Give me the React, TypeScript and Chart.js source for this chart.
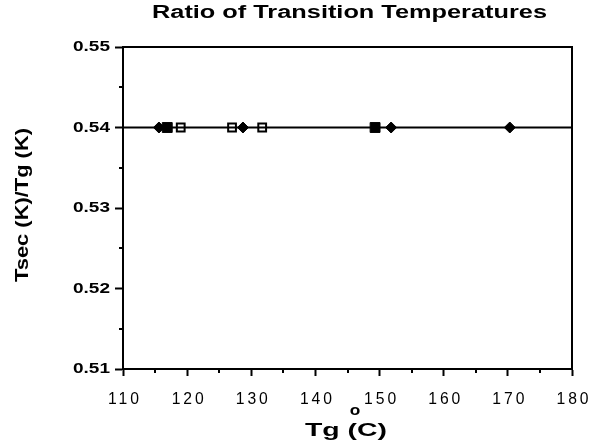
import React, { useEffect, useRef } from "react";
import { Chart, registerables } from "chart.js";

Chart.register(...registerables);

const titleText = "Ratio of Transition Temperatures";
const xTitleMain = "Tg (C)";
const xTitleSup = "o";
const yTitle = "Tsec (K)/Tg (K)";

const fitLineX = [110, 180];
const fitLineY = [0.54, 0.54];

const filledDiamondX = [115.6, 128.7, 151.8, 170.3];
const filledDiamondY = [0.54, 0.54, 0.54, 0.54];

const openSquareX = [119.0, 127.0, 131.7];
const openSquareY = [0.54, 0.54, 0.54];

const filledSquareX = [116.9, 149.3];
const filledSquareY = [0.54, 0.54];

const xTickLabels = ["110", "120", "130", "140", "150", "160", "170", "180"];
const yTickLabels = ["0.51", "0.52", "0.53", "0.54", "0.55"];

const xMin = 110, xMax = 180, xStep = 5;
const yMin = 0.51, yMax = 0.55, yStep = 0.005;

const pts = (xs: number[], ys: number[]) => xs.map((x, i) => ({ x, y: ys[i] }));

const FONT = "'Liberation Sans', Arial, Helvetica, sans-serif";

function drawStretched(ctx: any, text: string, x: number, y: number, sx: number, align: string) {
  ctx.save();
  ctx.translate(x, y);
  ctx.scale(sx, 1);
  ctx.textAlign = align;
  ctx.fillText(text, 0, 0);
  ctx.restore();
}

function fitFactor(ctx: any, text: string, targetW: number) {
  return targetW / ctx.measureText(text).width;
}

const isMajorX = (v: number) => Math.abs(v % 10) < 1e-6;
const isMajorY = (v: number) => Math.round(v * 1000) % 10 === 0;

export default function App() {
  const ref = useRef<HTMLCanvasElement | null>(null);
  useEffect(() => {
    if (!ref.current) return;
    const boxPlugin = {
      id: "boxAndTitles",
      afterDraw(chart: any) {
        const ctx = chart.ctx;
        const a = chart.chartArea;
        const xs = chart.scales.x;
        const ys = chart.scales.y;
        ctx.save();
        ctx.strokeStyle = "#000";
        ctx.lineWidth = 2;
        ctx.strokeRect(a.left, a.top, a.right - a.left, a.bottom - a.top);
        // minor ticks
        ctx.beginPath();
        for (let v = xMin; v <= xMax + 1e-9; v += xStep) {
          if (isMajorX(v)) continue;
          const px = Math.round(xs.getPixelForValue(v));
          ctx.moveTo(px, a.bottom);
          ctx.lineTo(px, a.bottom + 4);
        }
        for (let i = 0; i <= Math.round((yMax - yMin) / yStep); i++) {
          const v = yMin + i * yStep;
          if (isMajorY(v)) continue;
          const py = Math.round(ys.getPixelForValue(v));
          ctx.moveTo(a.left, py);
          ctx.lineTo(a.left - 4, py);
        }
        ctx.stroke();

        ctx.fillStyle = "#000";

        // tick labels
        ctx.font = `bold 14px ${FONT}`;
        ctx.textBaseline = "middle";
        const syY = fitFactor(ctx, "0.53", 37);
        yTickLabels.forEach((t) => {
          const py = ys.getPixelForValue(parseFloat(t));
          drawStretched(ctx, t, 110, py + 0.5, syY, "right");
        });
        ctx.font = `16px ${FONT}`;
        ctx.letterSpacing = "3px";
        const sxX = fitFactor(ctx, "140", 35);
        xTickLabels.forEach((t) => {
          const px = xs.getPixelForValue(parseFloat(t));
          drawStretched(ctx, t, px + 2, 399.5, sxX, "center");
        });
        ctx.letterSpacing = "0px";

        // titles
        ctx.textBaseline = "alphabetic";
        ctx.font = `bold 18px ${FONT}`;
        drawStretched(ctx, titleText, 152, 17.5, fitFactor(ctx, titleText, 395), "left");

        ctx.font = `bold 19px ${FONT}`;
        drawStretched(ctx, xTitleMain, 305, 436, fitFactor(ctx, xTitleMain, 82), "left");
        ctx.font = `bold 15px ${FONT}`;
        ctx.textBaseline = "middle";
        drawStretched(ctx, xTitleSup, 355, 411, 1.15, "center");

        ctx.save();
        ctx.translate(23, 282);
        ctx.rotate(-Math.PI / 2);
        ctx.font = `bold 18px ${FONT}`;
        ctx.textBaseline = "middle";
        drawStretched(ctx, yTitle, 0, 0, fitFactor(ctx, yTitle, 154), "left");
        ctx.restore();
        ctx.restore();
      },
    };
    const chart = new Chart(ref.current, {
      type: "scatter",
      data: {
        datasets: [
          {
            type: "line",
            data: pts(fitLineX, fitLineY),
            borderColor: "#000",
            borderWidth: 2,
            pointRadius: 0,
          } as any,
          {
            data: pts(filledSquareX, filledSquareY),
            pointStyle: "rect",
            pointRadius: 7,
            backgroundColor: "#000",
            borderColor: "#000",
            borderWidth: 1,
          },
          {
            data: pts(filledDiamondX, filledDiamondY),
            pointStyle: "rectRot",
            pointRadius: 5.5,
            backgroundColor: "#000",
            borderColor: "#000",
            borderWidth: 1,
          },
          {
            data: pts(openSquareX, openSquareY),
            pointStyle: "rect",
            pointRadius: 5.5,
            backgroundColor: "#fff",
            borderColor: "#000",
            borderWidth: 2,
          },
        ],
      },
      options: {
        animation: false,
        responsive: false,
        layout: { padding: { top: 47, right: 20, left: 0, bottom: 0 } },
        plugins: { legend: { display: false }, title: { display: false }, tooltip: { enabled: false } },
        scales: {
          x: {
            type: "linear",
            min: xMin,
            max: xMax,
            ticks: { stepSize: xStep, autoSkip: false, display: false },
            grid: {
              drawOnChartArea: false,
              color: "#000",
              tickColor: (c: any) => (c.tick && isMajorX(c.tick.value) ? "#000" : "rgba(0,0,0,0)"),
              tickLength: 7,
              tickWidth: 2,
            },
            border: { color: "#000", width: 2 },
            afterFit: (s: any) => { s.height = 76; },
          },
          y: {
            type: "linear",
            min: yMin,
            max: yMax,
            ticks: { stepSize: yStep, autoSkip: false, display: false },
            grid: {
              drawOnChartArea: false,
              color: "#000",
              tickColor: (c: any) => (c.tick && isMajorY(c.tick.value) ? "#000" : "rgba(0,0,0,0)"),
              tickLength: 8,
              tickWidth: 2,
            },
            border: { color: "#000", width: 2 },
            afterFit: (s: any) => { s.width = 123; },
          },
        },
      } as any,
      plugins: [boxPlugin],
    });
    return () => chart.destroy();
  }, []);
  return (
    <div style={{ position: "fixed", left: 0, top: 0, width: 592, height: 445 }}>
      <canvas ref={ref} width={592} height={445} style={{ display: "block" }} />
    </div>
  );
}
